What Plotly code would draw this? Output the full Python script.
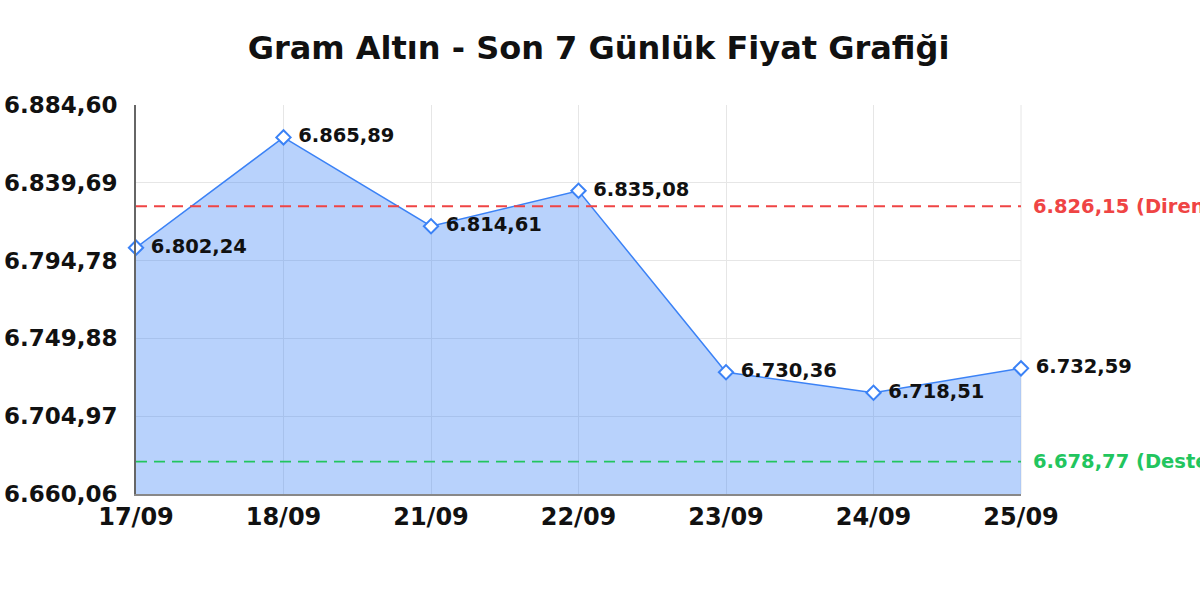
import plotly.graph_objects as go

dates = ["17/09", "18/09", "21/09", "22/09", "23/09", "24/09", "25/09"]
prices = [6802.24, 6865.89, 6814.61, 6835.08, 6730.36, 6718.51, 6732.59]
resistance = 6826.15
support = 6678.77
y_ticks = [6660.06, 6704.97, 6749.88, 6794.78, 6839.69, 6884.60]
title = "Gram Altın - Son 7 Günlük Fiyat Grafiği"

FONT = "DejaVu Sans"


def fmt(v):
    return f"{v:,.2f}".replace(",", "X").replace(".", ",").replace("X", ".")


fig = go.Figure()
fig.add_trace(go.Scatter(
    x=dates, y=prices,
    mode="lines+markers+text",
    fill="tozeroy",
    fillcolor="rgba(59,130,246,0.36)",
    line=dict(color="#3b82f6", width=1.5),
    marker=dict(symbol="diamond", size=11, color="white",
                line=dict(color="#3b82f6", width=2)),
    text=[" " + fmt(v) for v in prices],
    textposition="middle right",
    textfont=dict(family=FONT, size=19.5, color="#111111", weight="bold"),
    cliponaxis=False,
    hoverinfo="skip",
    showlegend=False,
))

for val, color, label in [(resistance, "#ef4444", "Direnç"), (support, "#22c55e", "Destek")]:
    fig.add_shape(type="line", xref="paper", x0=0, x1=1, yref="y", y0=val, y1=val,
                  line=dict(color=color, width=1.8, dash="11px,7px"), layer="above")
    fig.add_annotation(xref="paper", x=1, yref="y", y=val, xanchor="left", yanchor="middle",
                       xshift=10, showarrow=False,
                       text=f"{fmt(val)} ({label})",
                       font=dict(family=FONT, size=19.5, color=color, weight="bold"))

fig.update_layout(
    width=1200, height=600,
    paper_bgcolor="white", plot_bgcolor="white",
    margin=dict(l=136, r=179, t=105, b=106, autoexpand=False),
    title=dict(text=title, x=0.4988, xanchor="center", y=0.92, yanchor="middle",
               font=dict(family=FONT, size=32, color="#111111", weight="bold")),
    font=dict(family=FONT),
)
fig.update_xaxes(
    type="category", range=[0, len(dates) - 1],
    showgrid=True, gridcolor="#e6e6e6", gridwidth=1,
    showline=True, linecolor="#888888", linewidth=2,
    ticks="", ticklabelstandoff=0,
    tickfont=dict(family=FONT, size=24, color="#111111", weight="bold"),
    zeroline=False,
)
fig.update_yaxes(
    range=[y_ticks[0], y_ticks[-1]],
    tickvals=y_ticks, ticktext=[fmt(v) for v in y_ticks],
    showgrid=True, gridcolor="#e6e6e6", gridwidth=1,
    showline=True, linecolor="#666666", linewidth=2,
    ticks="", ticklabelstandoff=12,
    tickfont=dict(family=FONT, size=23, color="#111111", weight="bold"),
    zeroline=False,
)
fig.add_shape(type="line", xref="paper", x0=1, x1=1, yref="paper", y0=0, y1=1,
              line=dict(color="#e6e6e6", width=1), layer="below")

fig.write_html("out.html",
               config={"displayModeBar": False},
               post_script="document.body.style.margin='0';document.body.style.overflow='hidden';")
